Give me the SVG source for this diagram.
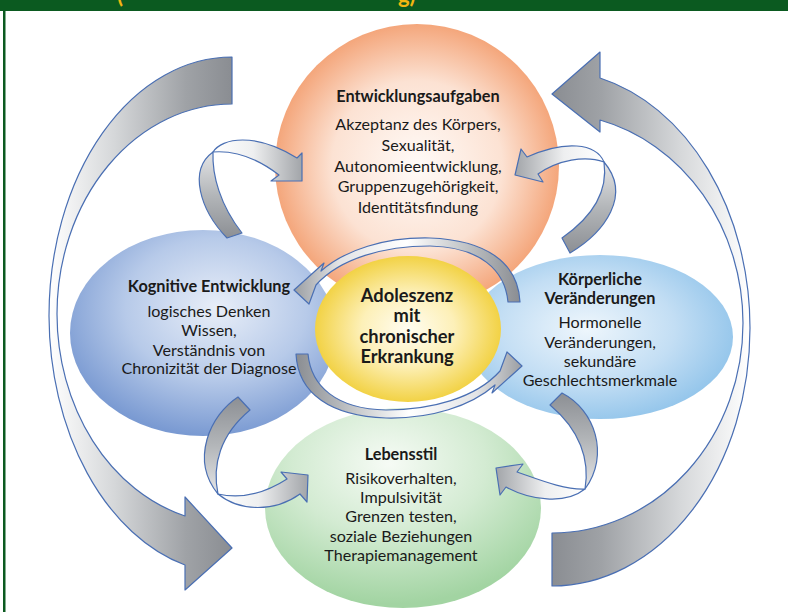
<svg xmlns="http://www.w3.org/2000/svg" width="788" height="612" viewBox="0 0 788 612">
  <style>
    .out { stroke: #4a6fb3; stroke-width: 1.2; stroke-linejoin: round; }
    .t { font-family: Lato, "Open Sans", "Liberation Sans", sans-serif; font-size: 16.1px; fill: #1a1a1a; text-anchor: middle; }
    .h { font-weight: bold; font-size: 16.3px; }
    .c { font-size: 18.3px; font-weight: bold; }
    .title { font-family: Lato, "Liberation Sans", sans-serif; font-size: 22px; font-weight: bold; fill: #f2b611; }
  </style>
  <defs>
    <radialGradient id="gOrange" cx="0.5" cy="0.5" r="0.5">
      <stop offset="0" stop-color="#fffbf8"/>
      <stop offset="0.6" stop-color="#fce2d3"/>
      <stop offset="1" stop-color="#f4a67b"/>
    </radialGradient>
    <radialGradient id="gBlueL" cx="0.55" cy="0.38" r="0.62">
      <stop offset="0" stop-color="#e8eef8"/>
      <stop offset="0.55" stop-color="#b7cae9"/>
      <stop offset="1" stop-color="#7a9ad2"/>
    </radialGradient>
    <radialGradient id="gBlueR" cx="0.45" cy="0.45" r="0.6">
      <stop offset="0" stop-color="#eef6fc"/>
      <stop offset="0.55" stop-color="#c3def4"/>
      <stop offset="1" stop-color="#8fc3ea"/>
    </radialGradient>
    <radialGradient id="gGreen" cx="0.45" cy="0.28" r="0.7">
      <stop offset="0" stop-color="#f6fbf5"/>
      <stop offset="0.5" stop-color="#d3ebd2"/>
      <stop offset="1" stop-color="#a2d4a2"/>
    </radialGradient>
    <radialGradient id="gYellow" cx="0.5" cy="0.5" r="0.5">
      <stop offset="0" stop-color="#fffdf2"/>
      <stop offset="0.5" stop-color="#fdf0b8"/>
      <stop offset="1" stop-color="#f2d245"/>
    </radialGradient>
    <linearGradient id="gBigL" gradientUnits="userSpaceOnUse" x1="49" y1="0" x2="232" y2="0">
      <stop offset="0" stop-color="#ffffff"/>
      <stop offset="0.35" stop-color="#d6d8da"/>
      <stop offset="0.75" stop-color="#9fa2a6"/>
      <stop offset="1" stop-color="#8a8d92"/>
    </linearGradient>
    <linearGradient id="gBigR" gradientUnits="userSpaceOnUse" x1="750" y1="0" x2="552" y2="0">
      <stop offset="0" stop-color="#ffffff"/>
      <stop offset="0.35" stop-color="#d6d8da"/>
      <stop offset="0.75" stop-color="#9fa2a6"/>
      <stop offset="1" stop-color="#8a8d92"/>
    </linearGradient>
    <linearGradient id="gFrontR" x1="0" y1="0" x2="1" y2="0">
      <stop offset="0" stop-color="#ffffff"/>
      <stop offset="0.45" stop-color="#eeeff0"/>
      <stop offset="1" stop-color="#a2a5a9"/>
    </linearGradient>
    <linearGradient id="gFrontL" x1="1" y1="0" x2="0" y2="0">
      <stop offset="0" stop-color="#ffffff"/>
      <stop offset="0.45" stop-color="#eeeff0"/>
      <stop offset="1" stop-color="#a2a5a9"/>
    </linearGradient>
    <linearGradient id="gBackUp" x1="0" y1="0" x2="0" y2="1">
      <stop offset="0" stop-color="#e4e5e7"/>
      <stop offset="0.5" stop-color="#b3b6b9"/>
      <stop offset="1" stop-color="#8c8f94"/>
    </linearGradient>
    <linearGradient id="gBackDown" x1="0" y1="1" x2="0" y2="0">
      <stop offset="0" stop-color="#e4e5e7"/>
      <stop offset="0.5" stop-color="#b3b6b9"/>
      <stop offset="1" stop-color="#8c8f94"/>
    </linearGradient>
    <linearGradient id="gArc" x1="0" y1="0" x2="1" y2="0">
      <stop offset="0" stop-color="#9b9ea2"/>
      <stop offset="0.2" stop-color="#e3e4e6"/>
      <stop offset="0.5" stop-color="#ffffff"/>
      <stop offset="0.8" stop-color="#b7babd"/>
      <stop offset="1" stop-color="#8a8d92"/>
    </linearGradient>
  </defs>

  <rect width="788" height="612" fill="#ffffff"/>

  <!-- frame: top bar with the lower edge of its heading, left rule -->
  <g id="frame">
    <rect x="0" y="0" width="788" height="11" fill="#0b5a20"/>
    <rect x="3" y="11" width="2.5" height="601" fill="#0b5a20"/>
    <text class="title" x="117" y="3">(</text>
    <text class="title" x="398" y="3">g)</text>
  </g>

  <g id="node-entwicklungsaufgaben">
    <circle cx="417" cy="166" r="142" fill="url(#gOrange)"/>
    <text class="t h" x="418" y="102">Entwicklungsaufgaben</text>
    <text class="t" x="418" y="130">Akzeptanz des Körpers,</text>
    <text class="t" x="418" y="151">Sexualität,</text>
    <text class="t" x="418" y="171.5">Autonomieentwicklung,</text>
    <text class="t" x="418" y="192">Gruppenzugehörigkeit,</text>
    <text class="t" x="418" y="213">Identitätsfindung</text>
  </g>

  <g id="node-lebensstil">
    <ellipse cx="403" cy="508" rx="138" ry="100" fill="url(#gGreen)"/>
    <text class="t h" x="401" y="460">Lebensstil</text>
    <text class="t" x="401" y="484">Risikoverhalten,</text>
    <text class="t" x="401" y="503">Impulsivität</text>
    <text class="t" x="401" y="522">Grenzen testen,</text>
    <text class="t" x="401" y="541.5">soziale Beziehungen</text>
    <text class="t" x="401" y="560.5">Therapiemanagement</text>
  </g>

  <g id="node-kognitive-entwicklung">
    <ellipse cx="203" cy="333" rx="133" ry="103" fill="url(#gBlueL)"/>
    <text class="t h" x="209" y="292">Kognitive Entwicklung</text>
    <text class="t" x="209" y="317">logisches Denken</text>
    <text class="t" x="209" y="336">Wissen,</text>
    <text class="t" x="209" y="355.5">Verständnis von</text>
    <text class="t" x="209" y="374">Chronizität der Diagnose</text>
  </g>

  <g id="node-koerperliche-veraenderungen">
    <ellipse cx="600" cy="337" rx="133" ry="82" fill="url(#gBlueR)"/>
    <text class="t h" x="600" y="285">Körperliche</text>
    <text class="t h" x="600" y="304">Veränderungen</text>
    <text class="t" x="600" y="328">Hormonelle</text>
    <text class="t" x="600" y="347.5">Veränderungen,</text>
    <text class="t" x="600" y="367">sekundäre</text>
    <text class="t" x="600" y="386">Geschlechtsmerkmale</text>
  </g>

  <g id="node-adoleszenz">
    <ellipse cx="408" cy="329" rx="93" ry="73" fill="url(#gYellow)"/>
    <text class="t c" x="407" y="302">Adoleszenz</text>
    <text class="t c" x="407" y="322">mit</text>
    <text class="t c" x="407" y="343">chronischer</text>
    <text class="t c" x="407" y="363">Erkrankung</text>
  </g>

  <g id="connectors">
    <!-- outer cycle -->
    <path id="arrow-outer-left" class="out" fill="url(#gBigL)"
          d="M232,57 A183,259 0 0 0 49,316 A183,259 0 0 0 185,565 L185,590 L232,548 L185,497 L185,516 A175,210 0 0 1 57,314 A175,210 0 0 1 232,104 Z"/>
    <path id="arrow-outer-right" class="out" fill="url(#gBigR)"
          d="M552,586 A198,258 0 0 0 750,328 A198,258 0 0 0 600,78 L600,52 L552,94 L600,132 L600,120 A191,210 0 0 1 743,323 A191,210 0 0 1 552,533 Z"/>

    <!-- ribbon arrows into the upper and lower node -->
    <g id="arrow-kognitiv-to-entwicklung">
      <path class="out" fill="url(#gBackUp)" d="M227,238 C200,210 188,170 213,152 C212,175 220,205 242,233 Z"/>
      <path class="out" fill="url(#gFrontR)" d="M213,152 C222,138 255,132 297,158 L302,153 L302,181 L271,181 L279,175 C262,162 238,150 213,152 Z"/>
    </g>
    <g id="arrow-koerper-to-entwicklung">
      <path class="out" fill="url(#gBackUp)" d="M570,253 C605,232 632,195 604,162 C608,190 595,215 562,238 Z"/>
      <path class="out" fill="url(#gFrontL)" d="M604,162 C596,143 565,140 527,157 L521,149 L515,175 L543,182 L538,174 C558,160 585,155 604,162 Z"/>
    </g>
    <g id="arrow-kognitiv-to-lebensstil">
      <path class="out" fill="url(#gBackDown)" d="M238,397 C210,415 190,460 218,494 C212,465 220,435 250,410 Z"/>
      <path class="out" fill="url(#gFrontR)" d="M218,494 C240,512 275,512 300,494 L307,502 L308,475 L281,472 L287,479 C270,490 245,500 218,494 Z"/>
    </g>
    <g id="arrow-koerper-to-lebensstil">
      <path class="out" fill="url(#gBackDown)" d="M562,393 C595,410 610,455 585,489 C590,460 580,430 550,405 Z"/>
      <path class="out" fill="url(#gFrontL)" d="M585,489 C565,505 530,500 506,487 L500,495 L496,468 L523,464 L517,472 C540,480 565,490 585,489 Z"/>
    </g>

    <!-- cycle around the centre -->
    <path id="arc-top" class="out" fill="url(#gArc)"
          d="M520,302 C518,262 485,240 430,238 C385,237 345,250 321,271 L324,263 L294,290 L309,304 L316,285 C340,258 385,246 430,246 C480,247 505,270 508,302 Z"/>
    <path id="arc-bottom" class="out" fill="url(#gArc)" transform="rotate(180 408 328)"
          d="M520,302 C518,262 485,240 430,238 C385,237 345,250 321,271 L324,263 L294,290 L309,304 L316,285 C340,258 385,246 430,246 C480,247 505,270 508,302 Z"/>
  </g>
</svg>
